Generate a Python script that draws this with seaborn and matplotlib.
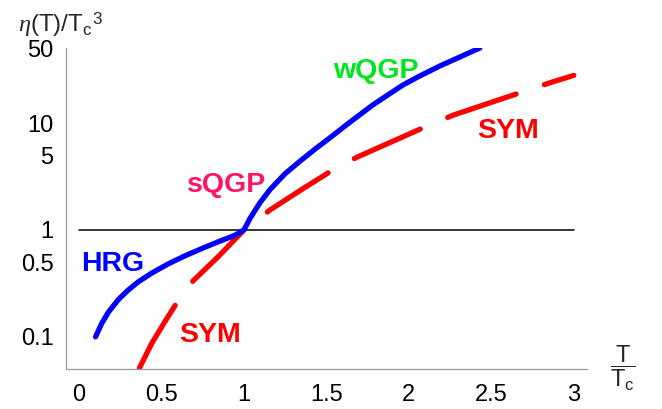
import numpy as np
import pandas as pd
import matplotlib
matplotlib.use("Agg")
import matplotlib.pyplot as plt
import matplotlib.ticker as mticker
import seaborn as sns

# HRG / QGP viscosity curve (blue)
blue_t = [0.10, 0.138, 0.178, 0.238, 0.299, 0.359, 0.441, 0.541, 0.642, 0.744,
          0.844, 0.945, 1.0,
          1.036, 1.097, 1.158, 1.248, 1.339, 1.43, 1.521, 1.642, 1.784,
          1.873, 1.965, 2.067, 2.188, 2.309, 2.43]
blue_eta = [0.10, 0.134, 0.170, 0.223, 0.275, 0.327, 0.395, 0.482, 0.573, 0.670,
            0.776, 0.892, 1.0,
            1.28, 1.80, 2.39, 3.35, 4.40, 5.70, 7.29, 10.2, 14.9,
            18.4, 22.8, 27.7, 34.3, 41.6, 50.5]

# SYM curve (red, dashed)
red_t = [0.366, 0.441, 0.521, 0.60, 0.693, 0.844, 1.0,
         1.158, 1.36, 1.56, 1.69, 1.915, 2.13, 2.27, 2.73, 2.87, 3.0]
red_eta = [0.051, 0.087, 0.139, 0.217, 0.336, 0.563, 1.0,
           1.54, 2.45, 3.82, 4.84, 6.9, 9.7, 11.9, 20.6, 24.3, 28.0]

# curve labels: text, colour, x, baseline y
labels = ["HRG", "sQGP", "wQGP", "SYM", "SYM"]
label_colors = ["#0000ff", "#ff1466", "#00e61e", "#ff0000", "#ff0000"]
label_x = [0.206, 0.895, 1.797, 2.6, 0.794]
label_y = [0.41, 2.28, 26.7, 7.19, 0.0904]

xticks = [0, 0.5, 1, 1.5, 2, 2.5, 3]
xtick_labels = ["0", "0.5", "1", "1.5", "2", "2.5", "3"]
yticks = [0.1, 0.5, 1, 5, 10, 50]
ytick_labels = ["0.1", "0.5", "1", "5", "10", "50"]

sns.set_theme(style="white")
plt.rcParams["font.family"] = ["Liberation Sans", "DejaVu Sans"]
plt.rcParams["mathtext.fontset"] = "custom"
plt.rcParams["mathtext.rm"] = "Liberation Sans"
plt.rcParams["mathtext.it"] = "Liberation Serif:italic"
plt.rcParams["mathtext.bf"] = "Liberation Sans:bold"
plt.rcParams["lines.scale_dashes"] = False

fig = plt.figure(figsize=(6.62, 4.09), dpi=100)
ax = fig.add_axes([0.0997, 0.0978, 0.787, 0.7848])

ax.plot([0, 3], [1, 1], color="black", lw=1.1, zorder=1)

blue_df = pd.DataFrame({"t": blue_t, "eta": blue_eta})
red_df = pd.DataFrame({"t": red_t, "eta": red_eta})
sns.lineplot(data=blue_df, x="t", y="eta", color="#0000ff", lw=3.8,
             solid_capstyle="round", solid_joinstyle="round", ax=ax, zorder=3)
sns.lineplot(data=red_df, x="t", y="eta", color="#ff0000", lw=3.8,
             linestyle=(0, (52, 21.5)), dash_capstyle="round",
             dash_joinstyle="round", ax=ax, zorder=2)

for txt, c, x, y in zip(labels, label_colors, label_x, label_y):
    ax.text(x, y, txt, color=c, fontsize=20.5, fontweight="bold",
            ha="center", va="baseline", zorder=4)

ax.set_yscale("log")
ax.set_xlim(-0.079, 3.08)
ax.set_ylim(0.05, 50.5)

ax.xaxis.set_major_locator(mticker.FixedLocator(xticks))
ax.xaxis.set_major_formatter(mticker.FixedFormatter(xtick_labels))
ax.xaxis.set_minor_locator(mticker.MultipleLocator(0.1))
ax.yaxis.set_major_locator(mticker.FixedLocator(yticks))
ax.yaxis.set_major_formatter(mticker.FixedFormatter(ytick_labels))
ax.yaxis.set_minor_locator(mticker.LogLocator(base=10, subs=np.arange(2, 10)))
ax.yaxis.set_minor_formatter(mticker.NullFormatter())

ax.tick_params(which="both", direction="in", color="#888888", labelsize=17,
               labelcolor="black")
ax.tick_params(which="major", length=3.5, width=0.8)
ax.tick_params(which="minor", length=2, width=0.6)
ax.tick_params(axis="x", which="major", pad=11)
ax.tick_params(axis="y", which="major", pad=9)

for side in ["top", "right"]:
    ax.spines[side].set_visible(False)
for side in ["left", "bottom"]:
    ax.spines[side].set_color("#999999")
    ax.spines[side].set_linewidth(0.9)
ax.set_xlabel("")
ax.set_ylabel("")

fig.text(0.027, 0.9225, r"$\eta\mathrm{(T)/T_c}{}^{3}$", fontsize=17.5,
         ha="left", va="baseline")
fig.text(0.941, 0.100, r"$\dfrac{\mathrm{T}}{\mathrm{T_c}}$", fontsize=17,
         ha="center", va="center")

fig.savefig("out.png", dpi=100)
